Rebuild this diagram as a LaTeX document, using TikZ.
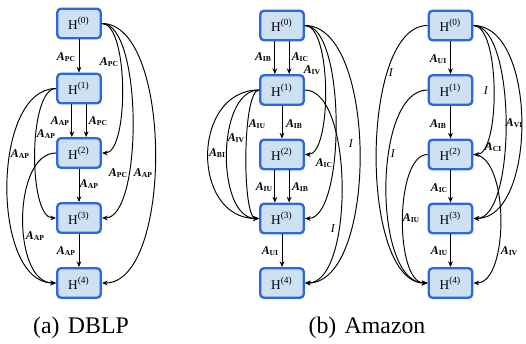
\documentclass[tikz,border=0pt]{standalone}
\usepackage{fontspec}
\setmainfont{Liberation Serif}
\usetikzlibrary{arrows.meta}
\definecolor{boxfill}{RGB}{205,225,243}
\definecolor{boxline}{RGB}{45,105,220}
\newcommand{\mA}[1]{\textbf{\textit{A}}\raisebox{-0.6pt}{\fontsize{3.2}{3.2}\selectfont\bfseries #1}}
\newcommand{\mI}{\textit{I}}

\begin{document}
\begin{tikzpicture}[
	x=0.42pt,
	y=0.42pt,
	>={Stealth[length=2.4pt,width=2pt]},
	font=\fontsize{5.6}{6}\selectfont,
	box/.style={
		draw=boxline,
		fill=boxfill,
		line width=1pt,
		rounded corners=1.6pt,
		rectangle,
		inner sep=0pt,
		minimum width=18.3pt,
		minimum height=12.4pt
	},
	lbl/.style={
		inner sep=0pt,
		font=\fontsize{5}{5}\selectfont
	},
	edge/.style={
		->,
		line width=0.4pt
	},
	caption/.style={
		font=\fontsize{10}{12}\selectfont
	}
]
\useasboundingbox (0,0) rectangle (526,343);

\node[box] (a0) at (79,319.5) {H\textsuperscript{(0)}};
\node[box] (a1) at (79,254.5) {H\textsuperscript{(1)}};
\node[box] (a2) at (79,190) {H\textsuperscript{(2)}};
\node[box] (a3) at (79,125) {H\textsuperscript{(3)}};
\node[box] (a4) at (79,60) {H\textsuperscript{(4)}};

\draw[edge] (a0) -- (a1);
\draw[edge] ([xshift=-3pt]a1.south) -- ([xshift=-3pt]a2.north);
\draw[edge] ([xshift=3pt]a1.south) -- ([xshift=3pt]a2.north);
\draw[edge] (a2) -- (a3);
\draw[edge] (a3) -- (a4);
\draw[edge] (a0.east) .. controls +(27,0) and +(27,0) .. (a2.east);
\draw[edge] (a0.east) .. controls +(41,0) and +(41,0) .. (a3.east);
\draw[edge] (a0.east) .. controls +(71,0) and +(71,0) .. (a4.east);
\draw[edge] (a1.west) .. controls +(-28,0) and +(-28,0) .. (a3.west);
\draw[edge] (a1.west) .. controls +(-65,0) and +(-65,0) .. (a4.west);
\draw[edge] (a2.west) .. controls +(-44,0) and +(-44,0) .. (a4.west);

\node[lbl] (la0) at (66,286) {\mA{PC}};
\node[lbl] (la1) at (60,222) {\mA{AP}};
\node[lbl] (la2) at (98,222) {\mA{PC}};
\node[lbl] (la3) at (46,209) {\mA{AP}};
\node[lbl] (la4) at (20,189) {\mA{AP}};
\node[lbl] (la5) at (109,281) {\mA{PC}};
\node[lbl] (la6) at (89,159) {\mA{AP}};
\node[lbl] (la7) at (118,170) {\mA{PC}};
\node[lbl] (la8) at (143,170) {\mA{AP}};
\node[lbl] (la9) at (35,107) {\mA{AP}};
\node[lbl] (la10) at (66,92) {\mA{AP}};

\node[box] (b0) at (282,317.5) {H\textsuperscript{(0)}};
\node[box] (b1) at (282,253) {H\textsuperscript{(1)}};
\node[box] (b2) at (282,188.5) {H\textsuperscript{(2)}};
\node[box] (b3) at (282,124.5) {H\textsuperscript{(3)}};
\node[box] (b4) at (282,60) {H\textsuperscript{(4)}};

\draw[edge] ([xshift=-3pt]b0.south) -- ([xshift=-3pt]b1.north);
\draw[edge] ([xshift=3pt]b0.south) -- ([xshift=3pt]b1.north);
\draw[edge] (b1) -- (b2);
\draw[edge] ([xshift=-3pt]b2.south) -- ([xshift=-3pt]b3.north);
\draw[edge] ([xshift=3pt]b2.south) -- ([xshift=3pt]b3.north);
\draw[edge] (b3) -- (b4);
\draw[edge] (b1.west) .. controls +(-68,0) and +(-68,0) .. (b3.west);
\draw[edge] (b1.west) .. controls +(-43,0) and +(-43,0) .. (b3.west);
\draw[edge] (b1.west) .. controls +(-17,0) and +(-17,0) .. (b3.west);
\draw[edge] (b0.east) .. controls +(27,0) and +(27,0) .. (b2.east);
\draw[edge] (b0.east) .. controls +(41,0) and +(41,0) .. (b3.east);
\draw[edge] (b1.east) .. controls +(49,0) and +(49,0) .. (b4.east);
\draw[edge] (b0.east) .. controls +(73,0) and +(73,0) .. (b4.east);

\node[lbl] (lb0) at (263,286) {\mA{IB}};
\node[lbl] (lb1) at (300,286) {\mA{IC}};
\node[lbl] (lb2) at (312,273) {\mA{IV}};
\node[lbl] (lb3) at (257,219) {\mA{IU}};
\node[lbl] (lb4) at (294,219) {\mA{IB}};
\node[lbl] (lb5) at (236,205) {\mA{IV}};
\node[lbl] (lb6) at (217,190) {\mA{BI}};
\node[lbl] (lb7) at (351,199) {\mI};
\node[lbl] (lb8) at (324,180) {\mA{IC}};
\node[lbl] (lb9) at (264,156) {\mA{IU}};
\node[lbl] (lb10) at (300,156) {\mA{IB}};
\node[lbl] (lb11) at (333,114) {\mI};
\node[lbl] (lb12) at (270,92) {\mA{UI}};

\node[box] (c0) at (450.5,317.5) {H\textsuperscript{(0)}};
\node[box] (c1) at (450.5,253) {H\textsuperscript{(1)}};
\node[box] (c2) at (450.5,188.5) {H\textsuperscript{(2)}};
\node[box] (c3) at (450.5,124.5) {H\textsuperscript{(3)}};
\node[box] (c4) at (450.5,60) {H\textsuperscript{(4)}};

\draw[edge] (c0) -- (c1);
\draw[edge] (c1) -- (c2);
\draw[edge] (c2) -- (c3);
\draw[edge] (c3) -- (c4);
\draw[edge] (c0.west) .. controls +(-68,0) and +(-68,0) .. (c4.west);
\draw[edge] (c1.west) .. controls +(-55,0) and +(-55,0) .. (c4.west);
\draw[edge] (c2.west) .. controls +(-33,0) and +(-33,0) .. (c4.west);
\draw[edge] (c0.east) .. controls +(27,0) and +(27,0) .. (c2.east);
\draw[edge] (c0.east) .. controls +(43,0) and +(43,0) .. (c3.east);
\draw[edge] (c0.east) .. controls +(64,0) and +(64,0) .. (c3.east);
\draw[edge] (c2.east) .. controls +(36,0) and +(36,0) .. (c4.east);

\node[lbl] (lc0) at (391,270) {\mI};
\node[lbl] (lc1) at (438,284) {\mA{UI}};
\node[lbl] (lc2) at (486,252) {\mI};
\node[lbl] (lc3) at (514,220) {\mA{VI}};
\node[lbl] (lc4) at (438,219) {\mA{IB}};
\node[lbl] (lc5) at (393,189) {\mI};
\node[lbl] (lc6) at (493,196) {\mA{CI}};
\node[lbl] (lc7) at (439,155) {\mA{IC}};
\node[lbl] (lc8) at (411,125) {\mA{IU}};
\node[lbl] (lc9) at (439,92) {\mA{IU}};
\node[lbl] (lc10) at (509,92) {\mA{IV}};

\node[caption] (capa) at (81,15) {(a)\hspace{3.5pt}DBLP};
\node[caption] (capb) at (367,15) {(b)\hspace{3.5pt}Amazon};

\end{tikzpicture}
\end{document}
